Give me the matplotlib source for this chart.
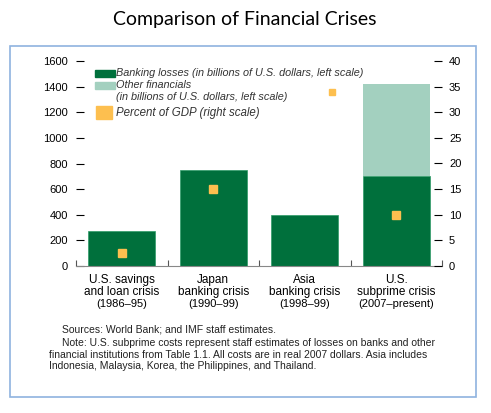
import matplotlib
matplotlib.use("Agg")
import matplotlib.pyplot as plt
from matplotlib.patches import Rectangle
import numpy as np

plt.rcParams['font.family'] = ['Liberation Sans', 'DejaVu Sans']

# data
crises = ["U.S. savings\nand loan crisis", "Japan\nbanking crisis",
          "Asia\nbanking crisis", "U.S.\nsubprime crisis"]
periods = ["(1986\u201395)", "(1990\u201399)", "(1998\u201399)", "(2007\u2013present)"]
banking = [270, 750, 400, 700]
other_fin = [0, 0, 0, 720]
gdp_pct = [2.6, 15, np.nan, 10]

dark_green = "#00703c"
light_green = "#a3d0bf"
orange = "#fdbf4f"

W, H = 491, 413
fig = plt.figure(figsize=(W / 100, H / 100), dpi=100)

# outer blue frame
fig.patches.append(Rectangle((10 / W, 1 - 397 / H), 466 / W, 351 / H,
                             transform=fig.transFigure, fill=False,
                             edgecolor="#8fb3df", lw=1.2))

fig.text(245 / W, 1 - 20 / H, "Comparison of Financial Crises",
         ha="center", va="center", fontsize=14, family="Lato")

ax = fig.add_axes([76 / W, 1 - 266 / H, 366 / W, 205 / H])
x = np.arange(len(crises))
ax.bar(x, banking, width=0.73, color=dark_green, edgecolor="#2e9b67", lw=0.5)
ax.bar(x, other_fin, width=0.73, bottom=banking, color=light_green, lw=0)
ax.set_xlim(-0.5, 3.5)
ax.set_ylim(0, 1600)
ax.set_yticks(range(0, 1601, 200))
ax.tick_params(axis="y", direction="in", length=6, width=0.8, labelsize=8, pad=6)
ax.set_xticks(np.arange(-0.5, 3.6, 1))
ax.set_xticklabels([])
ax.tick_params(axis="x", direction="in", length=4, width=0.8, color="#555555")
for s in ["top", "left", "right"]:
    ax.spines[s].set_visible(False)
ax.spines["bottom"].set_color("#888888")
ax.spines["bottom"].set_linewidth(0.8)

ax2 = ax.twinx()
ax2.set_ylim(0, 40)
ax2.set_yticks(range(0, 41, 5))
ax2.tick_params(axis="y", direction="in", length=6, width=0.8, labelsize=8, pad=5)
for s in ["top", "left", "right", "bottom"]:
    ax2.spines[s].set_visible(False)
ax2.plot(x, gdp_pct, ls="none", marker="s", ms=5.5, color=orange, mec=orange)

# category labels
for xi, name, per in zip(x, crises, periods):
    ax.text(xi, -0.04, name, transform=ax.get_xaxis_transform(), ha="center",
            va="top", fontsize=8.5, linespacing=1.0)
    ax.text(xi, -0.16, per, transform=ax.get_xaxis_transform(), ha="center",
            va="top", fontsize=8)

# legend drawn by hand
fig.patches.append(Rectangle((95 / W, 1 - 77 / H), 20 / W, 7 / H,
                             transform=fig.transFigure, color=dark_green))
fig.patches.append(Rectangle((95 / W, 1 - 89 / H), 20 / W, 7 / H,
                             transform=fig.transFigure, color=light_green))
fig.patches.append(Rectangle((96 / W, 1 - 119 / H), 16 / W, 13 / H,
                             transform=fig.transFigure, color=orange))
fig.patches.append(Rectangle((329 / W, 1 - 95 / H), 6 / W, 6 / H,
                             transform=fig.transFigure, color=orange))
leg = dict(fontsize=7.8, style="italic", color="#333333", va="center", ha="left")
fig.text(116 / W, 1 - 73 / H, "Banking losses (in billions of U.S. dollars, left scale)", **leg)
fig.text(116 / W, 1 - 85 / H, "Other financials", **leg)
fig.text(116 / W, 1 - 97 / H, "(in billions of U.S. dollars, left scale)", **leg)
fig.text(116 / W, 1 - 113 / H, "Percent of GDP (right scale)", fontsize=8.3,
         style="italic", color="#333333", va="center", ha="left")

# notes
note = dict(fontsize=7.5, va="center", ha="left", color="#222222")
fig.text(62 / W, 1 - 330 / H, "Sources: World Bank; and IMF staff estimates.", **note)
fig.text(62 / W, 1 - 343 / H, "Note: U.S. subprime costs represent staff estimates of losses on banks and other", **note)
fig.text(49 / W, 1 - 355 / H, "financial institutions from Table 1.1. All costs are in real 2007 dollars. Asia includes", **note)
fig.text(49 / W, 1 - 366 / H, "Indonesia, Malaysia, Korea, the Philippines, and Thailand.", **note)

fig.savefig("out.png", dpi=100)
